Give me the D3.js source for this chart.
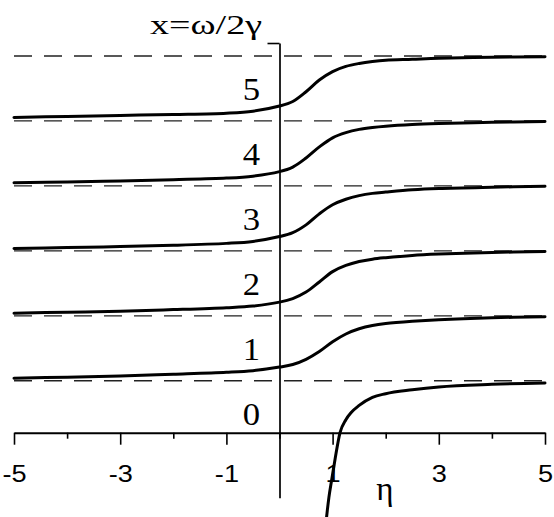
<!DOCTYPE html>
<html>
<head>
<meta charset="utf-8">
<script src="https://cdn.jsdelivr.net/npm/d3@7"></script>
<style>
  html, body { margin: 0; padding: 0; background: #fff; }
  svg { display: block; }
</style>
</head>
<body>
<svg id="chart" width="554" height="517"></svg>
<script>
// ---------- data ----------
const xTickMajor = [-5, -3, -1, 1, 3, 5];
const xTickMinor = [-4, -2, 0, 2, 4];
const yLabels = [0, 1, 2, 3, 4, 5];
const asymptotes = [0.8, 1.8, 2.8, 3.8, 4.8, 5.8];

const etaGrid = [-5, -4, -3, -2, -1, -0.5, 0, 0.25, 0.5, 0.75, 1, 1.25, 1.5, 1.75, 2, 2.5, 3, 4, 5];
const branch1 = [0.84, 0.855, 0.873, 0.90, 0.93, 0.955, 1.01, 1.05, 1.13, 1.25, 1.40, 1.52, 1.60, 1.65, 1.68, 1.715, 1.74, 1.77, 1.785];
const branch2 = [1.84, 1.855, 1.87, 1.895, 1.925, 1.95, 2.01, 2.065, 2.165, 2.32, 2.48, 2.575, 2.635, 2.672, 2.695, 2.73, 2.75, 2.775, 2.79];
const branch3 = [2.835, 2.85, 2.865, 2.885, 2.915, 2.945, 3.02, 3.08, 3.20, 3.37, 3.51, 3.595, 3.65, 3.685, 3.705, 3.74, 3.76, 3.78, 3.795];
const branch4 = [3.85, 3.86, 3.875, 3.895, 3.92, 3.95, 4.02, 4.09, 4.23, 4.40, 4.54, 4.62, 4.67, 4.70, 4.72, 4.745, 4.76, 4.78, 4.79];
const branch5 = [4.855, 4.87, 4.885, 4.90, 4.92, 4.95, 5.03, 5.10, 5.25, 5.43, 5.56, 5.64, 5.685, 5.715, 5.735, 5.75, 5.765, 5.78, 5.79];

const eta0 = [0.86, 0.90, 0.93, 0.98, 1.05, 1.14, 1.25, 1.35, 1.5, 1.75, 2, 2.5, 3, 4, 5];
const branch0 = [-1.5, -1.2, -1.0, -0.74, -0.39, 0, 0.2, 0.31, 0.42, 0.545, 0.6, 0.66, 0.705, 0.745, 0.765];

// ---------- drawing ----------
const svg = d3.select("#chart");
const x = d3.scaleLinear().domain([-5, 5]).range([14, 545]);
const y = d3.scaleLinear().domain([0, 5.8]).range([432.7, 56]);

// dashed asymptotes
svg.append("g").selectAll("line").data(asymptotes).join("line")
  .attr("x1", x(-5)).attr("x2", x(5))
  .attr("y1", d => y(d)).attr("y2", d => y(d))
  .attr("stroke", "#222").attr("stroke-width", 1.3)
  .attr("stroke-dasharray", "18,12");

// x axis (major + minor ticks)
const xAxisG = svg.append("g").attr("transform", `translate(0,${y(0)})`);
xAxisG.call(d3.axisBottom(x).tickValues(xTickMajor).tickSize(12).tickSizeOuter(0)
  .tickFormat(d3.format("d")));
xAxisG.select(".domain").attr("stroke", "#000").attr("stroke-width", 2);
xAxisG.selectAll(".tick line").attr("stroke", "#000").attr("stroke-width", 1.6);
xAxisG.selectAll(".tick text")
  .attr("y", 0).attr("dy", 0)
  .attr("transform", "translate(0,49) scale(1.18,1)")
  .attr("fill", "#000")
  .style("font-family", "'Liberation Sans', Arial, sans-serif")
  .style("font-size", "23px")
  .text(d => d < 0 ? "-" + Math.abs(d) : String(d));

const xMinorG = svg.append("g").attr("transform", `translate(0,${y(0)})`);
xMinorG.call(d3.axisBottom(x).tickValues(xTickMinor).tickSize(6).tickSizeOuter(0).tickFormat(""));
xMinorG.select(".domain").remove();
xMinorG.selectAll(".tick line").attr("stroke", "#000").attr("stroke-width", 1.6);

// vertical axis
const yAxisScale = y.copy().domain([-1, 6]).range([y(-1), y(6)]);
const yAxisG = svg.append("g").attr("transform", `translate(${x(0)},0)`);
yAxisG.call(d3.axisLeft(yAxisScale).tickValues([6]).tickSize(12).tickSizeOuter(0).tickFormat(""));
yAxisG.select(".domain").attr("stroke", "#000").attr("stroke-width", 1.7);
yAxisG.selectAll(".tick line").attr("stroke", "#000").attr("stroke-width", 1.6);

// branch labels
svg.append("g").selectAll("text").data(yLabels).join("text")
  .attr("transform", d => `translate(260,${y(d + 0.12)}) scale(1.12,1)`)
  .attr("text-anchor", "end")
  .style("font-family", "'Liberation Serif', 'Times New Roman', serif")
  .style("font-size", "31px")
  .attr("fill", "#000")
  .text(d => d);

// curves
const smooth = d3.line().x(d => x(d[0])).y(d => y(d[1])).curve(d3.curveCatmullRom.alpha(0.5));
const mono = d3.line().x(d => x(d[0])).y(d => y(d[1])).curve(d3.curveMonotoneX);
const branches = [branch1, branch2, branch3, branch4, branch5];
svg.append("g").selectAll("path").data(branches).join("path")
  .attr("d", b => smooth(etaGrid.map((e, i) => [e, b[i]])))
  .attr("fill", "none").attr("stroke", "#000").attr("stroke-width", 3)
  .attr("stroke-linecap", "round").attr("stroke-linejoin", "round");

svg.append("path")
  .attr("d", mono(eta0.map((e, i) => [e, branch0[i]])))
  .attr("fill", "none").attr("stroke", "#000").attr("stroke-width", 3)
  .attr("stroke-linecap", "round");

// axis titles
svg.append("text")
  .attr("x", 150).attr("y", 33.5)
  .attr("textLength", 112).attr("lengthAdjust", "spacingAndGlyphs")
  .style("font-family", "'Liberation Serif', 'Times New Roman', serif")
  .style("font-size", "27px")
  .attr("fill", "#000")
  .text("x=ω/2γ");

svg.append("text")
  .attr("x", 385).attr("y", 500)
  .attr("text-anchor", "middle")
  .style("font-family", "'Liberation Serif', 'Times New Roman', serif")
  .style("font-size", "33px")
  .attr("fill", "#000")
  .text("η");
</script>
</body>
</html>
